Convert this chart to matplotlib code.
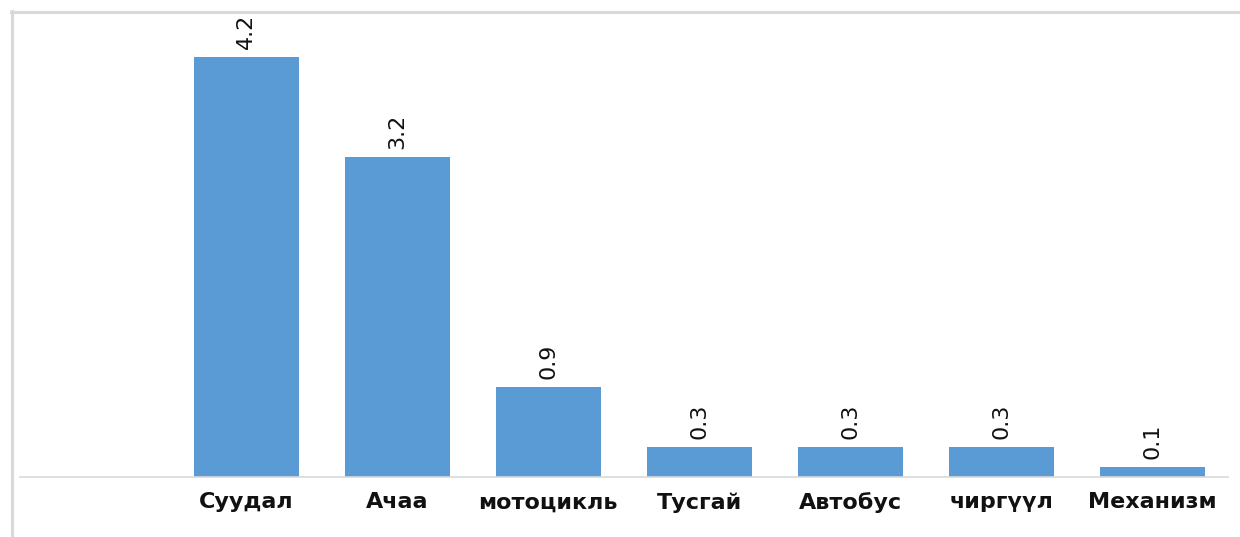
import matplotlib
matplotlib.use("Agg")
import matplotlib.pyplot as plt
from matplotlib.lines import Line2D
import numpy as np

categories = ["Суудал", "Ачаа", "мотоцикль", "Тусгай", "Автобус", "чиргүүл", "Механизм"]
values = [4.2, 3.2, 0.9, 0.3, 0.3, 0.3, 0.1]

plt.rcParams['font.family'] = ['DejaVu Sans']

fig = plt.figure(figsize=(12.4, 5.37), dpi=100)
ax = fig.add_axes([19.5 / 1240, 60 / 537, (1228 - 19.5) / 1240, (477 - 12) / 537])

# first slot of the axis is left empty, like in the original
x = np.arange(len(categories)) + 1
bars = ax.bar(x, values, width=0.695, color='#5b9bd5', zorder=2)

for b, v in zip(bars, values):
    ax.text(b.get_x() + b.get_width() / 2, v + 0.08, f"{v:.1f}",
            rotation=90, ha='center', va='bottom', fontsize=16, color='#111111')

ax.set_xlim(-0.5, len(categories) + 0.5)
ax.set_ylim(0, 4.65)
ax.set_xticks(x)
ax.set_xticklabels(categories, fontsize=16, fontweight='bold', color='#111111')
ax.tick_params(axis='x', length=0, pad=11)
ax.set_yticks([])
for s in ['top', 'right', 'left']:
    ax.spines[s].set_visible(False)
ax.spines['bottom'].set_color('#d9d9d9')
ax.spines['bottom'].set_linewidth(1.2)

# light frame along the top and left edges
fig.add_artist(Line2D([11 / 1240, 1], [1 - 11.5 / 537, 1 - 11.5 / 537],
                      transform=fig.transFigure, color='#d9d9d9', lw=2.2))
fig.add_artist(Line2D([11.5 / 1240, 11.5 / 1240], [0, 1 - 11 / 537],
                      transform=fig.transFigure, color='#d9d9d9', lw=2.2))

fig.savefig('out.png', dpi=100)
